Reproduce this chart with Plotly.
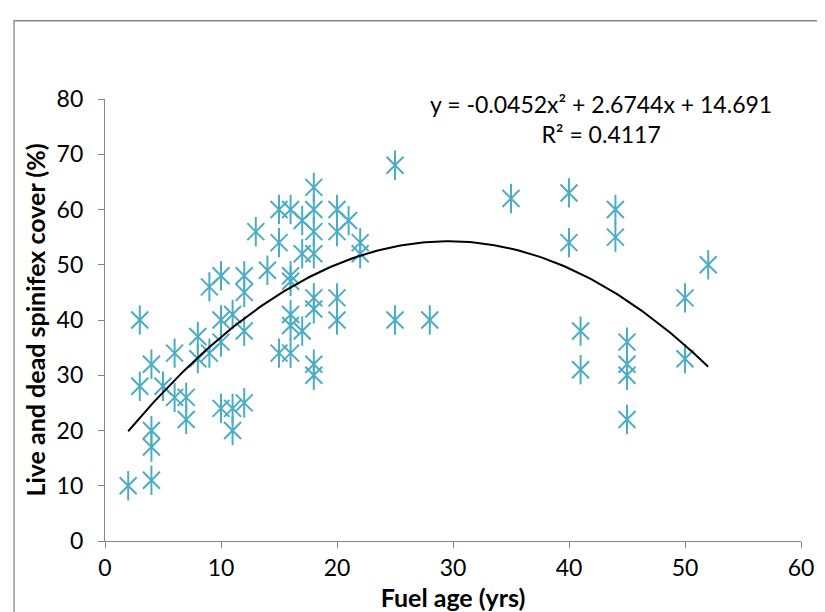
import numpy as np
import plotly.graph_objects as go

# Fuel age (yrs)
fuel_age = [2, 3, 3, 4, 4, 4, 4, 5, 6, 6, 7, 7, 8, 8, 9, 9, 10, 10, 10, 10,
            11, 11, 11, 12, 12, 12, 12, 13, 14, 15, 15, 15, 16, 16, 16, 16, 16, 16,
            17, 17, 17, 18, 18, 18, 18, 18, 18, 18, 18, 20, 20, 20, 20, 21, 22, 22,
            25, 25, 28, 35, 40, 40, 41, 41, 44, 44, 45, 45, 45, 45, 50, 50, 52]
# Live and dead spinifex cover (%)
cover = [10, 40, 28, 32, 20, 17, 11, 28, 34, 26, 26, 22, 37, 33, 46, 34, 48, 40, 36, 24,
         41, 24, 20, 48, 45, 38, 25, 56, 49, 60, 54, 34, 60, 48, 47, 41, 39, 34,
         58, 52, 38, 64, 60, 56, 52, 44, 42, 32, 30, 60, 56, 44, 40, 58, 54, 52,
         68, 40, 40, 62, 63, 54, 38, 31, 60, 55, 36, 32, 30, 22, 44, 33, 50]

# Published polynomial trendline coefficients (order 2)
trend_coef = [-0.0452, 2.6744, 14.691]
equation_text = "y = -0.0452x² + 2.6744x + 14.691<br>R² = 0.4117"

x_ticks = [0, 10, 20, 30, 40, 50, 60]
y_ticks = [0, 10, 20, 30, 40, 50, 60, 70, 80]

FONT = "Lato"
COLOR = "#4BACC6"
TICK_SIZE = 23
TITLE_SIZE = 25

xs = np.linspace(min(fuel_age), max(fuel_age), 200)
ys = np.polyval(trend_coef, xs)

fig = go.Figure()
# Excel-style star marker = X + vertical line
fig.add_trace(go.Scatter(x=fuel_age, y=cover, mode="markers",
                         marker=dict(symbol="x-thin-open", size=17, color=COLOR,
                                     line=dict(color=COLOR, width=2)),
                         showlegend=False, hoverinfo="x+y"))
fig.add_trace(go.Scatter(x=fuel_age, y=cover, mode="markers",
                         marker=dict(symbol="line-ns-open", size=21, color=COLOR,
                                     line=dict(color=COLOR, width=2)),
                         showlegend=False, hoverinfo="skip"))
fig.add_trace(go.Scatter(x=xs, y=ys, mode="lines",
                         line=dict(color="black", width=2),
                         showlegend=False, hoverinfo="skip"))

fig.update_layout(
    width=817, height=604,
    margin=dict(l=97, r=24, t=91, b=71, autoexpand=False),
    paper_bgcolor="white", plot_bgcolor="white",
    font=dict(family=FONT, size=TICK_SIZE, color="black"),
    xaxis=dict(range=[0, 60], tickvals=x_ticks, showgrid=False, zeroline=False,
               showline=True, linecolor="#868686", linewidth=1.3,
               ticks="outside", ticklen=6, tickcolor="#868686",
               tickfont=dict(family=FONT, size=TICK_SIZE, color="black"),
               title=dict(text="<b>Fuel age (yrs)</b>", font=dict(family=FONT, size=TITLE_SIZE, color="black"), standoff=12)),
    yaxis=dict(range=[0, 80], tickvals=y_ticks, showgrid=False, zeroline=False,
               showline=True, linecolor="#868686", linewidth=1.3,
               ticks="outside", ticklen=6, tickcolor="#868686",
               ticklabelstandoff=10,
               tickfont=dict(family=FONT, size=TICK_SIZE, color="black"),
               title=dict(text="<b>Live and dead spinifex cover (%)</b>", font=dict(family=FONT, size=TITLE_SIZE, color="black"), standoff=3)),
    shapes=[dict(type="rect", xref="paper", yref="paper",
                 x0=-0.1307, x1=1.030, y0=-0.25, y1=1.177,
                 line=dict(color="#868686", width=1.3), layer="below")],
)
fig.add_annotation(text=equation_text, xref="paper", yref="paper", x=0.713, y=1.024,
                   xanchor="center", yanchor="top", showarrow=False, align="center",
                   font=dict(family=FONT, size=TICK_SIZE, color="black"))

fig.write_html("out.html")
